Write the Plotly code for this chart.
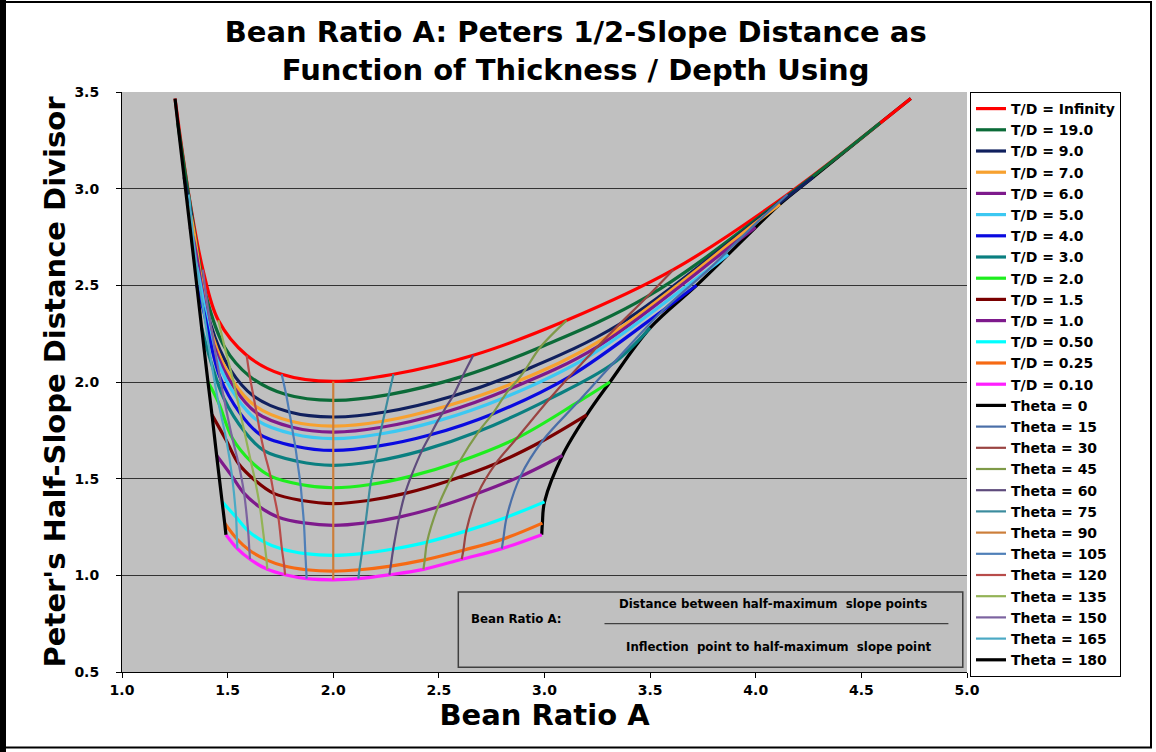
import plotly.graph_objects as go

# ---------------- data ----------------
theta_values = [0, 15, 30, 45, 60, 75, 90, 105, 120, 135, 150, 165, 180]

td_labels = ["T/D = Infinity", "T/D = 19.0", "T/D = 9.0", "T/D = 7.0", "T/D = 6.0",
             "T/D = 5.0", "T/D = 4.0", "T/D = 3.0", "T/D = 2.0", "T/D = 1.5",
             "T/D = 1.0", "T/D = 0.50", "T/D = 0.25", "T/D = 0.10"]
td_colors = ["#FF0000", "#0B6B38", "#10205E", "#F7A12F", "#7E1A8C", "#3CC8F2",
             "#0A0AE0", "#0A7F80", "#1EEE1E", "#7A0000", "#7E1A8C", "#00FFFF",
             "#F66A14", "#FF1FFF"]

# x / y of every T/D curve at theta = 0, 15, ..., 180
x_td_inf = [4.734, 4.15, 3.61, 3.105, 2.663, 2.285, 2.0, 1.756, 1.590, 1.456, 1.383, 1.316, 1.251]
y_td_inf = [3.466, 2.97, 2.581, 2.319, 2.138, 2.040, 2.003, 2.040, 2.138, 2.319, 2.581, 2.97, 3.466]
x_td_19 = [4.589, 4.11, 3.486, 2.98, 2.612, 2.263, 2.0, 1.777, 1.605, 1.486, 1.399, 1.321, 1.264]
y_td_19 = [3.34, 2.93, 2.441, 2.18, 2.029, 1.935, 1.905, 1.935, 2.029, 2.18, 2.441, 2.93, 3.34]
x_td_9 = [4.273, 4.07, 3.356, 2.908, 2.567, 2.245, 2.0, 1.792, 1.622, 1.514, 1.419, 1.324, 1.294]
y_td_9 = [3.06, 2.89, 2.300, 2.062, 1.928, 1.845, 1.819, 1.845, 1.928, 2.062, 2.300, 2.89, 3.06]
x_td_7 = [4.115, 4.03, 3.295, 2.865, 2.537, 2.235, 2.0, 1.800, 1.631, 1.528, 1.430, 1.328, 1.309]
y_td_7 = [2.92, 2.85, 2.233, 2.0, 1.876, 1.797, 1.772, 1.797, 1.876, 2.0, 2.233, 2.85, 2.92]
x_td_6 = [4.0, 3.92, 3.25, 2.834, 2.518, 2.229, 2.0, 1.805, 1.637, 1.535, 1.437, 1.339, 1.322]
y_td_6 = [2.80, 2.735, 2.182, 1.964, 1.840, 1.766, 1.741, 1.766, 1.840, 1.964, 2.182, 2.735, 2.80]
x_td_5 = [3.87, 3.78, 3.206, 2.803, 2.495, 2.222, 2.0, 1.810, 1.644, 1.545, 1.445, 1.356, 1.337]
y_td_5 = [2.66, 2.585, 2.130, 1.916, 1.799, 1.731, 1.707, 1.731, 1.799, 1.916, 2.130, 2.585, 2.66]
x_td_4 = [3.72, 3.56, 3.117, 2.754, 2.460, 2.211, 2.0, 1.820, 1.656, 1.561, 1.463, 1.386, 1.354]
y_td_4 = [2.50, 2.37, 2.027, 1.835, 1.727, 1.668, 1.646, 1.668, 1.727, 1.835, 2.027, 2.37, 2.50]
x_td_3 = [3.50, 3.323, 3.024, 2.689, 2.420, 2.197, 2.0, 1.830, 1.672, 1.579, 1.483, 1.424, 1.377]
y_td_3 = [2.28, 2.094, 1.913, 1.745, 1.645, 1.590, 1.569, 1.590, 1.645, 1.745, 1.913, 2.094, 2.28]
x_td_2 = [3.31, 3.158, 2.870, 2.598, 2.369, 2.176, 2.0, 1.845, 1.703, 1.610, 1.522, 1.456, 1.407]
y_td_2 = [2.0, 1.896, 1.710, 1.589, 1.513, 1.470, 1.453, 1.470, 1.513, 1.589, 1.710, 1.896, 2.0]
x_td_1p5 = [3.20, 2.99, 2.768, 2.552, 2.340, 2.166, 2.0, 1.852, 1.718, 1.630, 1.552, 1.495, 1.426]
y_td_1p5 = [1.83, 1.695, 1.577, 1.491, 1.424, 1.387, 1.371, 1.387, 1.424, 1.491, 1.577, 1.695, 1.83]
x_td_1 = [3.085, 2.886, 2.685, 2.495, 2.312, 2.153, 2.0, 1.861, 1.740, 1.653, 1.578, 1.521, 1.448]
y_td_1 = [1.62, 1.512, 1.424, 1.353, 1.301, 1.271, 1.258, 1.271, 1.301, 1.353, 1.424, 1.512, 1.62]
x_td_0p5 = [3.0, 2.821, 2.630, 2.444, 2.284, 2.135, 2.0, 1.868, 1.757, 1.674, 1.597, 1.540, 1.474]
y_td_0p5 = [1.38, 1.301, 1.230, 1.172, 1.136, 1.112, 1.103, 1.112, 1.136, 1.172, 1.230, 1.301, 1.38]
x_td_0p25 = [2.99, 2.805, 2.616, 2.433, 2.272, 2.124, 2.0, 1.872, 1.768, 1.684, 1.603, 1.544, 1.486]
y_td_0p25 = [1.27, 1.188, 1.130, 1.080, 1.048, 1.029, 1.022, 1.029, 1.048, 1.080, 1.130, 1.188, 1.27]
x_td_0p1 = [2.987, 2.798, 2.608, 2.427, 2.266, 2.119, 2.0, 1.874, 1.772, 1.688, 1.606, 1.546, 1.492]
y_td_0p1 = [1.21, 1.138, 1.083, 1.031, 1.003, 0.983, 0.977, 0.983, 1.003, 1.031, 1.083, 1.138, 1.21]

td_x = [x_td_inf, x_td_19, x_td_9, x_td_7, x_td_6, x_td_5, x_td_4, x_td_3,
        x_td_2, x_td_1p5, x_td_1, x_td_0p5, x_td_0p25, x_td_0p1]
td_y = [y_td_inf, y_td_19, y_td_9, y_td_7, y_td_6, y_td_5, y_td_4, y_td_3,
        y_td_2, y_td_1p5, y_td_1, y_td_0p5, y_td_0p25, y_td_0p1]

theta_labels = ["Theta = %d" % t for t in theta_values]
theta_colors = ["#000000", "#4A6FA8", "#9A4442", "#7F9A48", "#5E4B7C", "#3C8C9E",
                "#CC7E3A", "#4F7FB8", "#B84C4A", "#93B356", "#7C63A0", "#4BA9C4",
                "#000000"]

# ---------------- figure ----------------
fig = go.Figure()


def theta_trace(j, rank):
    xs = [row[j] for row in td_x]
    ys = [row[j] for row in td_y]
    col = theta_colors[j]
    w = 3.2 if col == "#000000" else 2.2
    return go.Scatter(x=xs, y=ys, mode="lines", name=theta_labels[j], legendrank=rank,
                      line=dict(color=col, width=w, shape="spline", smoothing=1.0))


# Theta = 0 lies underneath the T/D curves (its upper part is hidden in the bundle)
fig.add_trace(theta_trace(0, 100 + len(td_labels)))

for i, (lab, col, xs, ys) in enumerate(zip(td_labels, td_colors, td_x, td_y)):
    fig.add_trace(go.Scatter(x=xs, y=ys, mode="lines", name=lab, legendrank=100 + i,
                             line=dict(color=col, width=3.2, shape="spline", smoothing=1.0)))

for j in range(1, len(theta_values)):
    fig.add_trace(theta_trace(j, 100 + len(td_labels) + j))

bold = "bold"
fig.update_layout(
    width=1156, height=752,
    margin=dict(l=122, r=189, t=92, b=80, autoexpand=False),
    paper_bgcolor="white",
    plot_bgcolor="#C0C0C0",
    font=dict(family="DejaVu Sans", color="black"),
    title=dict(text="Bean Ratio A: Peters 1/2-Slope Distance as<br>Function of Thickness / Depth Using",
               x=0.498, xref="container", xanchor="center",
               y=0.944, yref="container", yanchor="middle",
               font=dict(size=29, weight=bold, family="DejaVu Sans")),
    xaxis=dict(range=[1, 5], tick0=1, dtick=0.5, tickformat=".1f",
               showgrid=False, zeroline=False, showline=True, linecolor="black",
               linewidth=1, ticks="outside", ticklen=5, tickcolor="black",
               tickfont=dict(size=14, weight=bold),
               title=dict(text="Bean Ratio A", font=dict(size=29, weight=bold), standoff=6)),
    yaxis=dict(range=[0.5, 3.5], tick0=0.5, dtick=0.5, tickformat=".1f",
               showgrid=True, gridcolor="#333333", gridwidth=1, zeroline=False,
               showline=True, linecolor="black", linewidth=1, ticks="outside",
               ticklen=5, tickcolor="black", tickfont=dict(size=14, weight=bold),
               ticklabelstandoff=14,
               title=dict(text="Peter's Half-Slope Distance Divisor",
                          font=dict(size=29, weight=bold), standoff=0)),
    legend=dict(x=(970 - 122) / 845, y=1.0, xanchor="left", yanchor="top",
                xref="paper", yref="paper", maxheight=640,
                bgcolor="white", bordercolor="black", borderwidth=1,
                font=dict(size=14, weight=bold), tracegroupgap=0),
    showlegend=True,
)

# explanatory box
fig.add_shape(type="rect", xref="paper", yref="paper", x0=0.398, x1=0.995, y0=0.008, y1=0.138,
              line=dict(color="#404040", width=1.5), fillcolor="rgba(0,0,0,0)")
fig.add_shape(type="line", xref="paper", yref="paper", x0=0.571, x1=0.978, y0=0.0833, y1=0.0833,
              line=dict(color="#404040", width=1.2))
fig.add_annotation(xref="paper", yref="paper", x=0.411, y=0.092, xanchor="left", yanchor="middle",
                   text="Bean Ratio A:", showarrow=False, font=dict(size=11.8, weight=bold))
fig.add_annotation(xref="paper", yref="paper", x=0.770, y=0.118, xanchor="center", yanchor="middle",
                   text="Distance between half-maximum  slope points", showarrow=False,
                   font=dict(size=11.8, weight=bold))
fig.add_annotation(xref="paper", yref="paper", x=0.777, y=0.043, xanchor="center", yanchor="middle",
                   text="Inflection  point to half-maximum  slope point", showarrow=False,
                   font=dict(size=11.8, weight=bold))

# outer frame of the chart area
fig.add_shape(type="rect", xref="paper", yref="paper",
              x0=(3 - 122) / 845, x1=(1151 - 122) / 845,
              y0=(671.6 - 747) / 579.6, y1=(671.6 - 2) / 579.6,
              line=dict(color="black", width=2), fillcolor="rgba(0,0,0,0)", layer="above")
fig.add_shape(type="line", xref="paper", yref="paper",
              x0=(3 - 122) / 845, x1=(3 - 122) / 845,
              y0=(671.6 - 752) / 579.6, y1=(671.6 - 0) / 579.6,
              line=dict(color="black", width=6))

fig.write_html("out.html")
